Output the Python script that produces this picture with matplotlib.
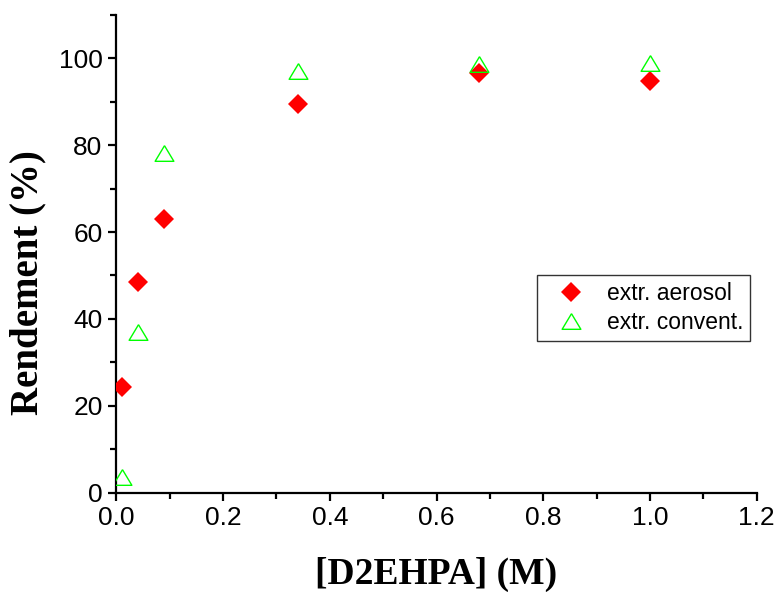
import matplotlib
matplotlib.use("Agg")
import matplotlib.pyplot as plt
from matplotlib.ticker import MultipleLocator, FormatStrFormatter

conc = [0.01, 0.04, 0.09, 0.34, 0.68, 1.0]
aerosol = [24.4, 48.4, 63.0, 89.6, 96.6, 94.7]
convent = [3.5, 37.0, 78.3, 97.0, 98.7, 98.9]
series_labels = ["extr. aerosol", "extr. convent."]
xlabel = "[D2EHPA] (M)"
ylabel = "Rendement (%)"

plt.rcParams['font.family'] = ['Liberation Sans', 'DejaVu Sans']

fig = plt.figure(figsize=(7.78, 5.92), dpi=100)
ax = fig.add_axes([116.4/778, 1-492.5/592, (756.6-116.4)/778, (492.5-15)/592])

ax.plot(conc, aerosol, linestyle='none', marker='D', markersize=9.7,
        color='#ff0000', markeredgewidth=0, label=series_labels[0], zorder=3)
tri = [(0, 1), (-1.2, -1), (1.2, -1), (0, 1)]
ax.plot(conc, convent, linestyle='none', marker=tri, markersize=13.5,
        markerfacecolor='none', markeredgecolor='#00ff00', markeredgewidth=1.0,
        label=series_labels[1], zorder=4)

ax.set_xlim(0, 1.2)
ax.set_ylim(0, 110)
ax.xaxis.set_major_locator(MultipleLocator(0.2))
ax.xaxis.set_minor_locator(MultipleLocator(0.1))
ax.yaxis.set_minor_locator(MultipleLocator(10))
ax.set_yticks([0, 20, 40, 60, 80, 100])
ax.xaxis.set_major_formatter(FormatStrFormatter('%.1f'))

for s in ['top', 'right']:
    ax.spines[s].set_visible(False)
for s in ['left', 'bottom']:
    ax.spines[s].set_linewidth(1.6)
ax.tick_params(which='major', direction='out', length=6, width=1.6, labelsize=19, pad=4)
ax.tick_params(which='minor', direction='out', length=4, width=1.6)

ax.set_xlabel(xlabel, family=['Liberation Serif'], fontweight='bold', fontsize=27, labelpad=19)
ax.set_ylabel(ylabel, family=['Liberation Serif'], fontweight='bold', fontsize=28, va='center')
ax.yaxis.set_label_coords((27.5-116.4)/640.2, (492.5-283)/477.5)

leg = ax.legend(loc='upper left', bbox_to_anchor=((536.7-116.4)/640.2, 1-(275-15)/477.5),
                fontsize=16.5, frameon=True, fancybox=False, edgecolor='black',
                borderpad=0.32, handletextpad=0.35, labelspacing=0.25, handlelength=2.38,
                borderaxespad=0)
leg.get_frame().set_linewidth(1.0)

fig.savefig("out.png", dpi=100)
